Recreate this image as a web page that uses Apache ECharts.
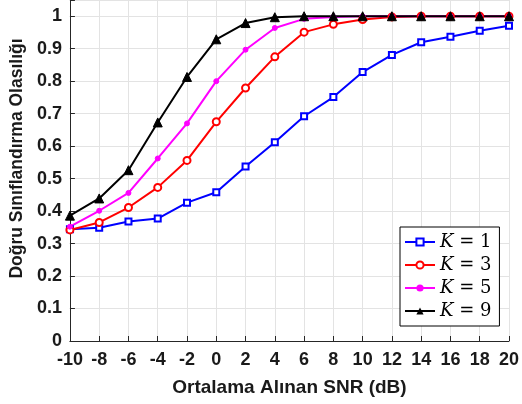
<!DOCTYPE html>
<html>
<head>
<meta charset="utf-8">
<script src="https://cdn.jsdelivr.net/npm/echarts@6/dist/echarts.min.js"></script>
<style>html,body{margin:0;padding:0;background:#fff}#c{width:522px;height:404px}</style>
</head>
<body>
<div id="c"></div>
<script>
var snr = [-10,-8,-6,-4,-2,0,2,4,6,8,10,12,14,16,18,20];
var k1 = [0.344,0.349,0.368,0.377,0.426,0.458,0.537,0.612,0.692,0.751,0.828,0.881,0.920,0.937,0.955,0.971];
var k3 = [0.342,0.365,0.411,0.473,0.556,0.675,0.779,0.875,0.951,0.975,0.990,0.998,1.0,1.0,1.0,1.0];
var k5 = [0.352,0.401,0.456,0.562,0.670,0.800,0.897,0.964,0.992,0.998,1.0,1.0,1.0,1.0,1.0,1.0];
var k9 = [0.386,0.439,0.526,0.673,0.813,0.929,0.979,0.997,1.0,1.0,1.0,1.0,1.0,1.0,1.0,1.0];
var names = ['K = 1','K = 3','K = 5','K = 9'];

function pairs(v){ return snr.map(function(x,i){ return [x, v[i]]; }); }

var font = 'Liberation Sans, Arial, sans-serif';
var chart = echarts.init(document.getElementById('c'), null, {renderer:'canvas'});
var mk = function(name, data, color, symbol, size, extra){
  var s = {
    name: name, type: 'line', data: pairs(data), symbol: symbol, symbolSize: size,
    lineStyle: {color: color, width: 2}, itemStyle: {color: color, borderColor: color},
    animation: false, z: 3
  };
  if (extra) for (var k in extra) s[k] = extra[k];
  return s;
};
chart.setOption({
  animation: false,
  backgroundColor: '#fff',
  grid: {left: 66, right: 12, top: 0, bottom: 63},
  xAxis: {
    type: 'value', min: -10, max: 20, interval: 2,
    name: 'Ortalama Alınan SNR (dB)', nameLocation: 'middle', nameGap: 37,
    nameTextStyle: {fontFamily: font, fontWeight: 'bold', fontSize: 19, color: '#1a1a1a'},
    axisLine: {show: true, onZero: false, lineStyle: {color: '#262626', width: 1}},
    axisTick: {show: true, inside: true, length: 5, lineStyle: {color: '#262626'}},
    axisLabel: {fontFamily: font, fontWeight: 'bold', fontSize: 18, color: '#1a1a1a', margin: 10},
    splitLine: {show: true, lineStyle: {color: '#e3e3e3', width: 1}}
  },
  yAxis: {
    type: 'value', min: 0, max: 1.05, interval: 0.1,
    name: 'Doğru Sınıflandırma Olasılığı', nameLocation: 'middle', nameGap: 40,
    nameTextStyle: {fontFamily: font, fontWeight: 'bold', fontSize: 17.5, color: '#1a1a1a', padding: [0,0,0,24]},
    axisLine: {show: true, onZero: false, lineStyle: {color: '#262626', width: 1}},
    axisTick: {show: true, inside: true, length: 5, lineStyle: {color: '#262626'}},
    axisLabel: {fontFamily: font, fontWeight: 'bold', fontSize: 18, color: '#1a1a1a', margin: 8,
      formatter: function(v){ if (v > 1.0001) return ''; return (Math.round(v*10)/10).toString(); }},
    splitLine: {show: true, lineStyle: {color: '#e3e3e3', width: 1}}
  },
  legend: {
    orient: 'vertical', left: 400, top: 227, data: names,
    backgroundColor: '#fff', borderColor: '#000', borderWidth: 1, borderRadius: 0,
    padding: [6, 8, 6, 4], itemGap: 5, itemWidth: 30, itemHeight: 9,
    textStyle: {
      lineHeight: 18,
      rich: {
        i: {fontFamily: 'DejaVu Serif, Liberation Serif, serif', fontStyle: 'italic', fontSize: 18, color: '#000', lineHeight: 18},
        r: {fontFamily: 'DejaVu Serif, Liberation Serif, serif', fontSize: 18, color: '#000', lineHeight: 18}
      }
    },
    formatter: function(n){ return '{i|K}{r| = ' + n.split('= ')[1] + '}'; }
  },
  series: [
    mk(names[0], k1, '#0000ff', 'emptyRect', 6, {itemStyle:{color:'#0000ff', borderColor:'#0000ff', borderWidth:2}}),
    mk(names[1], k3, '#ff0000', 'emptyCircle', 7, {itemStyle:{color:'#ff0000', borderColor:'#ff0000', borderWidth:1.6}}),
    mk(names[2], k5, '#ff00ff', 'circle', 5),
    mk(names[3], k9, '#000000', 'triangle', 9)
  ]
});
</script>
</body>
</html>
